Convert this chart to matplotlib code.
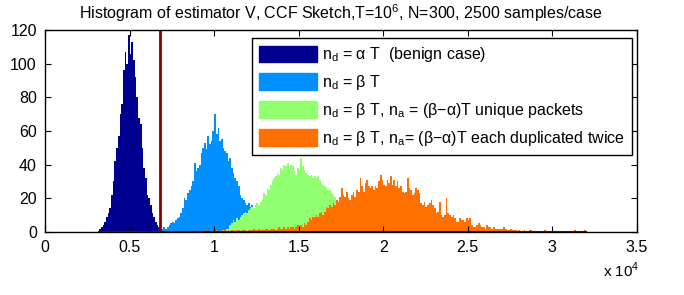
import numpy as np
import matplotlib.pyplot as plt
from matplotlib.patches import Patch

plt.rcParams['font.family'] = ['Liberation Sans', 'DejaVu Sans']
plt.rcParams['mathtext.fontset'] = 'custom'
plt.rcParams['mathtext.rm'] = 'Liberation Sans'

# histogram counts, bin width 100, each list starts at its own first bin edge
bin_w = 100

benign_start = 3200
benign = [2, 3, 4, 6, 9, 11, 14, 22, 30, 42, 50, 57, 70, 76, 96, 107, 100, 117, 106, 113,
          102, 92, 80, 68, 64, 50, 38, 32, 22, 20, 16, 11, 9, 6, 4, 3, 2, 1, 1]

beta_start = 6900
beta = [2, 3, 2, 3, 4, 5, 6, 5, 7, 8, 9, 11, 14, 20, 19, 23, 25, 27, 30, 41,
        36, 38, 40, 47, 50, 53, 49, 57, 52, 54, 60, 70, 58, 62, 54, 55, 50, 48, 47, 42,
        44, 38, 35, 32, 30, 27, 22, 20, 19, 17, 16, 17, 15, 16, 11, 9, 6, 4, 3, 2,
        1, 1]

unique_start = 10500
unique = [1, 1, 2, 2, 4, 5, 7, 6, 8, 7, 9, 10, 11, 12, 11, 13, 14, 15, 14, 16,
          17, 16, 18, 19, 23, 22, 26, 25, 28, 30, 32, 33, 35, 34, 38, 37, 40, 39, 41, 37,
          40, 39, 36, 34, 38, 37, 44, 39, 37, 35, 34, 33, 34, 32, 33, 32, 33, 31, 29, 28,
          27, 26, 25, 25, 23, 22, 21, 19, 18, 17, 15, 14, 13, 12, 11, 10, 9, 8, 7, 6,
          5, 5, 4, 3, 3, 2, 2, 1]

dup_start = 9500
dup = [1, 0, 0, 1, 0, 0, 1, 0, 0, 1, 0, 1, 0, 1, 0, 1, 1, 0, 1, 1,
       0, 1, 1, 1, 0, 1, 1, 1, 2, 1, 1, 2, 1, 2, 1, 2, 2, 1, 2, 2,
       2, 1, 2, 3, 2, 2, 3, 2, 3, 2, 3, 3, 2, 3, 4, 3, 4, 3, 5, 4,
       6, 8, 7, 9, 9, 10, 9, 11, 12, 10, 12, 15, 14, 16, 15, 17, 16, 19, 18, 21,
       26, 22, 21, 24, 20, 19, 22, 24, 21, 25, 24, 32, 27, 24, 29, 31, 27, 26, 27, 25,
       27, 26, 30, 34, 31, 28, 27, 31, 29, 33, 28, 31, 27, 30, 26, 27, 24, 23, 24, 32,
       26, 25, 22, 23, 26, 25, 23, 17, 16, 18, 15, 16, 17, 19, 16, 14, 11, 12, 18, 10,
       9, 10, 20, 11, 10, 9, 10, 8, 6, 6, 8, 7, 7, 6, 8, 7, 8, 4, 3, 3,
       4, 5, 4, 3, 3, 2, 4, 3, 3, 2, 3, 2, 2, 2, 2, 2, 3, 2, 1, 1,
       2, 1, 1, 1, 0, 1, 0, 0, 1, 0, 0, 1, 1, 0, 0, 0, 0, 0, 0, 0,
       1, 0, 0, 0, 0, 0, 0, 0, 0, 0, 0, 0, 0, 0, 0, 0, 0, 0, 1, 0,
       0, 0, 0, 0, 1]

threshold = 6800

labels = [r'n$_\mathregular{d}$ = α T  (benign case)',
          r'n$_\mathregular{d}$ = β T',
          r'n$_\mathregular{d}$ = β T, n$_\mathregular{a}$ = (β−α)T unique packets',
          r'n$_\mathregular{d}$ = β T, n$_\mathregular{a}$= (β−α)T each duplicated twice']
colors = ['#000090', '#0090ff', '#90ff70', '#ff7000']

xticks = [0, 5000, 10000, 15000, 20000, 25000, 30000, 35000]
xticklabels = ['0', '0.5', '1', '1.5', '2', '2.5', '3', '3.5']
yticks = [0, 20, 40, 60, 80, 100, 120]

fig = plt.figure(figsize=(6.84, 2.95), dpi=100)
ax = fig.add_axes([0.066, 0.214, 0.865, 0.684])

series = [(benign_start, benign), (beta_start, beta), (unique_start, unique), (dup_start, dup)]
lo, hi = 1e9, -1e9
for (start, h), c in zip(series, colors):
    edges = start + bin_w * np.arange(len(h) + 1)
    ax.stairs(h, edges, fill=True, color=c, lw=0)
    lo, hi = min(lo, edges[0]), max(hi, edges[-1])

ax.plot([lo, hi], [0, 0], color='#8c0000', lw=1.5, zorder=3)
ax.axvline(threshold, color='#8c0000', lw=2, zorder=4)

ax.set_xlim(0, 35000)
ax.set_ylim(0, 120)
ax.set_xticks(xticks)
ax.set_xticklabels(xticklabels)
ax.set_yticks(yticks)
ax.tick_params(direction='in', top=True, right=True, length=4, labelsize=11.5, pad=6)
for s in ax.spines.values():
    s.set_linewidth(1)
    s.set_zorder(5)

ax.set_title(r'Histogram of estimator V, CCF Sketch,T=10$^\mathregular{6}$, N=300, 2500 samples/case',
             fontsize=11.5, pad=8)
ax.text(1.005, -0.145, r'x 10$^\mathregular{4}$', transform=ax.transAxes, ha='right', va='top', fontsize=11)

handles = [Patch(facecolor=c, edgecolor=c) for c in colors]
leg = ax.legend(handles, labels, loc='upper right', bbox_to_anchor=(0.992, 0.96), fontsize=11.5,
                handlelength=3.6, handleheight=1.25, labelspacing=0.55, borderpad=0.45,
                borderaxespad=0, fancybox=False, edgecolor='black', framealpha=1,
                handletextpad=0.35)
leg.get_frame().set_linewidth(1)

fig.savefig('out.png', dpi=100)
